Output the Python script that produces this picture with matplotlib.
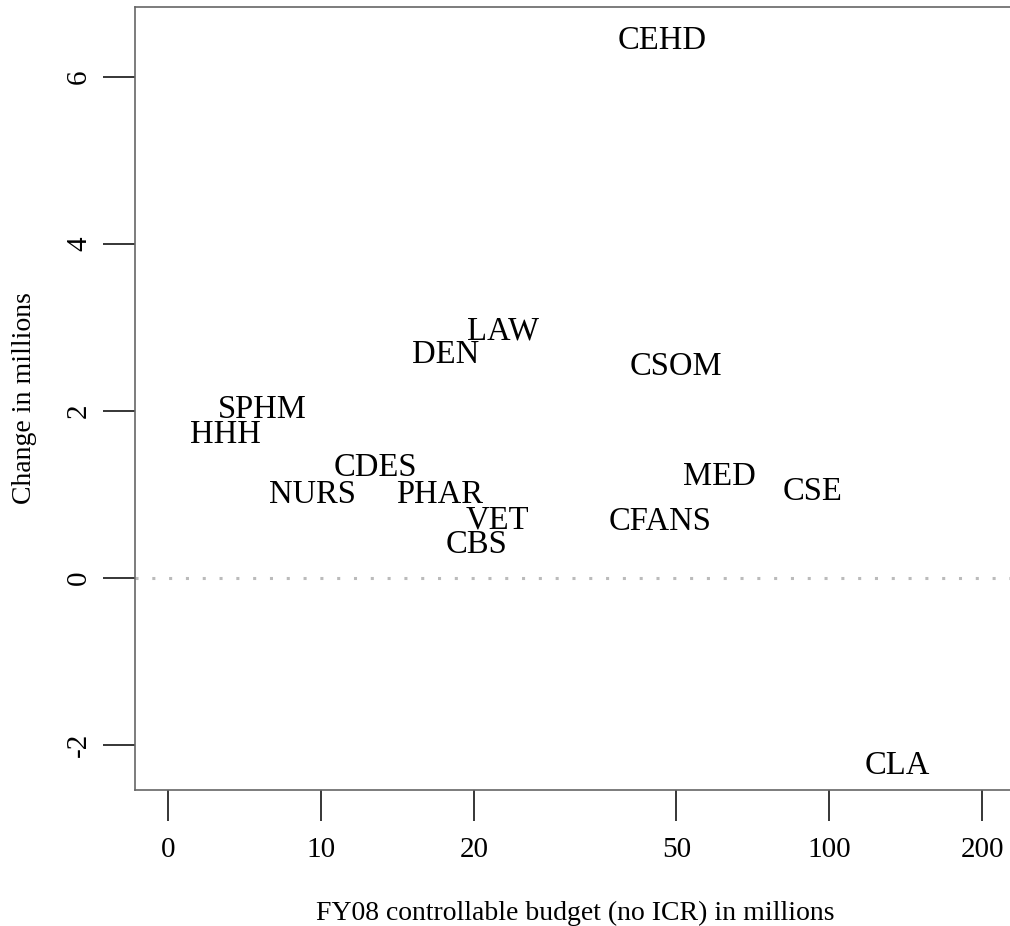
import numpy as np
import matplotlib
matplotlib.use("Agg")
import matplotlib.pyplot as plt

units = ["CEHD", "LAW", "DEN", "CSOM", "SPHM", "HHH", "CDES", "NURS", "PHAR",
         "VET", "CBS", "MED", "CSE", "CFANS", "CLA"]
budget = [46.9, 22.8, 17.6, 49.9, 7.65, 6.5, 12.8, 9.6, 17.1,
          22.2, 20.2, 60.7, 92.9, 46.5, 136.0]
change = [6.44, 2.96, 2.67, 2.53, 2.02, 1.71, 1.32, 1.0, 1.0,
          0.69, 0.40, 1.21, 1.03, 0.67, -2.25]
xtick_vals = [5, 10, 20, 50, 100, 200]
xtick_labels = ["0", "10", "20", "50", "100", "200"]
ytick_vals = [-2, 0, 2, 4, 6]

plt.rcParams['font.family'] = ['Liberation Serif', 'DejaVu Serif']

fig = plt.figure(figsize=(10.10, 9.26), dpi=100)
ax = fig.add_axes([135/1010, 1-790/926, (1015-135)/1010, (790-7)/926])

for u, b, c in zip(units, budget, change):
    ax.text(b, c, u, ha='center', va='center', fontsize=23.5)

ax.axhline(0, color='#bbbbbb', linestyle=(0, (1, 4.5)), linewidth=2.2)

ax.set_xscale('log', base=2)
ax.set_xlim(10*2**((135-321)/153), 10*2**((1015-321)/153))
ax.set_ylim((578-790)/83.5, (578-7)/83.5)

ax.set_xticks(xtick_vals)
ax.set_xticklabels(xtick_labels)
ax.xaxis.set_minor_locator(matplotlib.ticker.NullLocator())
ax.set_yticks(ytick_vals)
ax.set_yticklabels([str(v) for v in ytick_vals], rotation=90, va='center')

ax.tick_params(axis='x', direction='out', length=22, width=1.1, color='black',
               labelsize=21, pad=12)
ax.tick_params(axis='y', direction='out', length=23, width=1.1, color='black',
               labelsize=21, pad=8)
for s in ax.spines.values():
    s.set_color('#666666')
    s.set_linewidth(1.2)

ax.set_xlabel("FY08 controllable budget (no ICR) in millions", fontsize=20, labelpad=27)
ax.set_ylabel("Change in millions", fontsize=20, labelpad=21)

fig.savefig("out.png", dpi=100)
